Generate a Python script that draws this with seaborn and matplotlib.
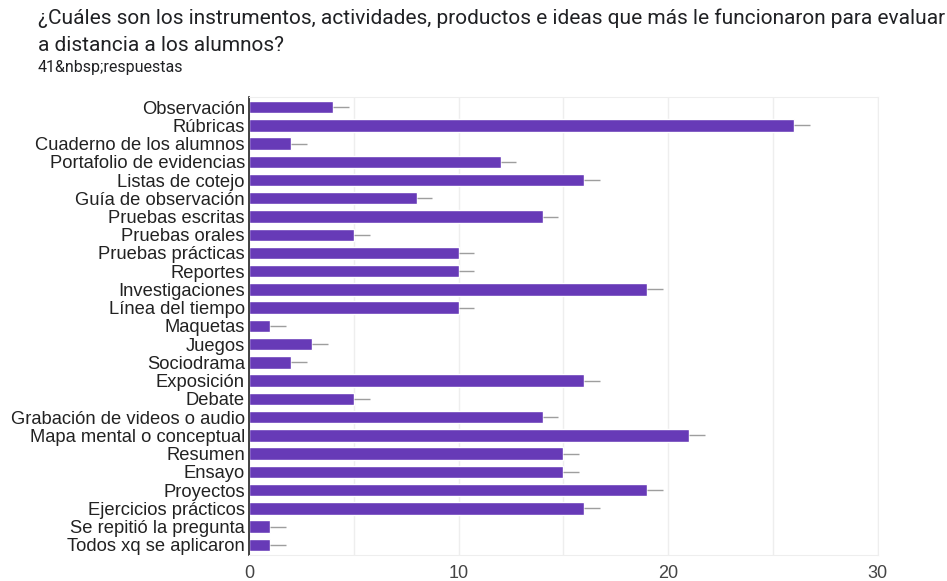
import matplotlib.pyplot as plt
import seaborn as sns
import pandas as pd

# Responses per option
categories = [
    "Observación", "Rúbricas", "Cuaderno de los alumnos", "Portafolio de evidencias",
    "Listas de cotejo", "Guía de observación", "Pruebas escritas", "Pruebas orales",
    "Pruebas prácticas", "Reportes", "Investigaciones", "Línea del tiempo", "Maquetas",
    "Juegos", "Sociodrama", "Exposición", "Debate", "Grabación de videos o audio",
    "Mapa mental o conceptual", "Resumen", "Ensayo", "Proyectos", "Ejercicios prácticos",
    "Se repitió la pregunta", "Todos xq se aplicaron",
]
counts = [4, 26, 2, 12, 16, 8, 14, 5, 10, 10, 19, 10, 1, 3, 2, 16, 5, 14, 21, 15, 15, 19, 16, 1, 1]
x_ticks = [0, 10, 20, 30]

df = pd.DataFrame({"option": categories, "count": counts})

sns.set_style("white")
fig = plt.figure(figsize=(9.47, 5.81), dpi=100)
ax = fig.add_axes([0.263, 0.045, 0.664, 0.788])

sns.barplot(data=df, x="count", y="option", orient="h", color="#673AB7",
            saturation=1, width=0.68, ax=ax)

# small grey whisker after each bar
ax.hlines(range(len(counts)), df["count"], df["count"] + 0.75, color="#9e9e9e", lw=1, zorder=3)

ax.set_xlim(0, 30)
ax.set_ylim(len(categories) - 0.45, -0.55)
ax.set_xticks(x_ticks)
ax.set_xticks(range(0, 31, 5), minor=True)
ax.grid(axis="x", which="both", color="#eeeeee", lw=1)
ax.set_axisbelow(True)
ax.set_xlabel("")
ax.set_ylabel("")

for s in ["top", "right", "bottom"]:
    ax.spines[s].set_color("#eeeeee")
ax.spines["left"].set_color("#222222")
ax.spines["left"].set_linewidth(1.2)

ax.tick_params(axis="y", length=0, pad=3, labelsize=13.2, labelcolor="#222222")
ax.tick_params(axis="x", which="both", length=0, pad=7, labelsize=13, labelcolor="#444444")
for lbl in ax.get_yticklabels() + ax.get_xticklabels():
    lbl.set_family("Liberation Sans")

fig.text(0.040, 0.968, "¿Cuáles son los instrumentos, actividades, productos e ideas que más le funcionaron para evaluar",
         fontsize=15, family="Roboto", color="#202124", va="center")
fig.text(0.040, 0.922, "a distancia a los alumnos?",
         fontsize=15, family="Roboto", color="#202124", va="center")
fig.text(0.040, 0.883, "41&nbsp;respuestas",
         fontsize=11.5, family="Roboto", color="#202124", va="center")

fig.savefig("out.png", dpi=100)
